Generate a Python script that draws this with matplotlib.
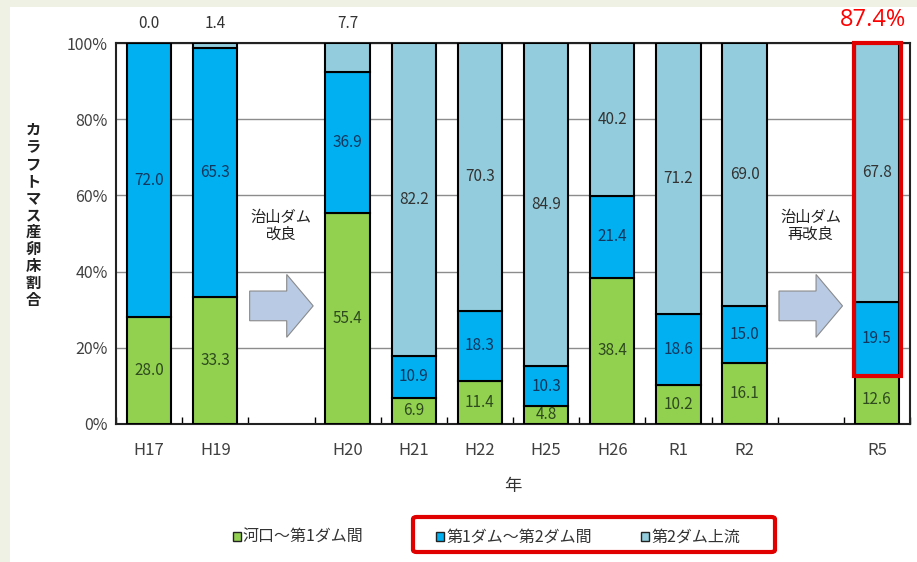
import matplotlib
matplotlib.use("Agg")
import matplotlib.pyplot as plt
from matplotlib.patches import Rectangle, FancyArrow, FancyBboxPatch
from matplotlib.ticker import MultipleLocator, PercentFormatter

plt.rcParams['font.family'] = ['Noto Sans CJK JP', 'DejaVu Sans']

# data (percent share of redds by section)
years = ['H17', 'H19', 'H20', 'H21', 'H22', 'H25', 'H26', 'R1', 'R2', 'R5']
slots = [0, 1, 3, 4, 5, 6, 7, 8, 9, 11]   # gaps at 2 and 10 for the arrows
river_to_dam1 = [28.0, 33.3, 55.4, 6.9, 11.4, 4.8, 38.4, 10.2, 16.1, 12.6]
dam1_to_dam2 = [72.0, 65.3, 36.9, 10.9, 18.3, 10.3, 21.4, 18.6, 15.0, 19.5]
above_dam2 = [0.0, 1.4, 7.7, 82.2, 70.3, 84.9, 40.2, 71.2, 69.0, 67.8]
series_names = ['河口～第1ダム間', '第1ダム～第2ダム間', '第2ダム上流']
arrow_slots = [2, 10]
arrow_texts = ['治山ダム\n改良', '治山ダム\n再改良']
highlight = '87.4%'

colors = ['#92d050', '#00b0f0', '#93cddd']
text_colors = ['#2e4a1e', '#12375e', '#333333']

fig = plt.figure(figsize=(9.17, 5.62), dpi=100)
fig.patch.set_facecolor('white')
# light frame strip on the left and top
fig.patches.append(Rectangle((0, 0), 10 / 917, 1, transform=fig.transFigure,
                             facecolor='#eef1e4', edgecolor='none', zorder=-5))
fig.patches.append(Rectangle((0, 1 - 7 / 562), 1, 7 / 562, transform=fig.transFigure,
                             facecolor='#eef1e4', edgecolor='none', zorder=-5))

ax = fig.add_axes([116 / 917, 138 / 562, 794 / 917, 381 / 562])

w = 0.67
bottom = [0.0] * len(years)
series = [river_to_dam1, dam1_to_dam2, above_dam2]
for k, (vals, c, tc) in enumerate(zip(series, colors, text_colors)):
    ax.bar(slots, vals, width=w, bottom=bottom, color=c, edgecolor='black',
           linewidth=1.5, zorder=3)
    for x, b, v in zip(slots, bottom, vals):
        if k == 2 and v < 10:
            # small top shares are written above the bar
            ax.annotate(f'{v:.1f}', xy=(x, 100), xytext=(0, 14),
                        textcoords='offset points', ha='center', va='center',
                        fontsize=11, color='#333333', annotation_clip=False)
        else:
            ax.text(x, b + v / 2, f'{v:.1f}', ha='center', va='center',
                    fontsize=11, color=tc, zorder=4)
    bottom = [b + v for b, v in zip(bottom, vals)]

# arrows + notes in the gaps
for s, t in zip(arrow_slots, arrow_texts):
    ax.add_patch(FancyArrow(s - 0.48, 31, 0.96, 0, width=7.8, head_width=16.5,
                            head_length=0.4, length_includes_head=True,
                            facecolor='#b9cbe4', edgecolor='#8a8a8a',
                            linewidth=0.8, zorder=3))
    ax.text(s, 52, t, ha='center', va='center', fontsize=11, color='#222222',
            linespacing=0.95, zorder=4)

ax.set_xlim(-0.5, 11.5)
ax.set_ylim(0, 100)
ax.yaxis.set_major_locator(MultipleLocator(20))
ax.yaxis.set_major_formatter(PercentFormatter(decimals=0))
ax.grid(axis='y', color='#8c8c8c', linewidth=1, zorder=0)
ax.set_axisbelow(True)
ax.set_xticks(slots)
ax.set_xticklabels(years)
ax.set_xticks([i + 0.5 for i in range(-1, 12)], minor=True)
ax.tick_params(axis='x', which='major', length=0, labelsize=12,
               labelcolor='#404040', pad=13)
ax.tick_params(axis='x', which='minor', direction='in', length=5, width=1)
ax.tick_params(axis='y', length=0, labelsize=11.5, labelcolor='#404040', pad=6)
for sp in ax.spines.values():
    sp.set_linewidth(1.5)
    sp.set_color('#222222')

ax.set_xlabel('年', fontsize=12.5, color='#333333', labelpad=13)
fig.text(33 / 917, 1 - 215 / 562, '\n'.join('カラフトマス産卵床割合'),
         ha='center', va='center', fontsize=11, fontweight='bold',
         linespacing=1.08, color='#222222')

# red highlight on R5
r5 = slots[-1]
ax.add_patch(Rectangle((r5 - 0.34, river_to_dam1[-1]), 0.70, 100 - river_to_dam1[-1],
                       fill=False, edgecolor='#e00000', linewidth=3,
                       clip_on=False, zorder=6))
fig.text(906 / 917, 1 - 20 / 562, highlight, ha='right', va='center',
         fontsize=17, color='#ff0000', family='Open Sans')

# legend (manual, positions follow the reference)
leg_x = [237, 440, 645]
for x, name, c in zip(leg_x, series_names, colors):
    fig.patches.append(Rectangle(((x - 4) / 917, 1 - 541 / 562), 8 / 917, 9 / 562,
                                 transform=fig.transFigure, facecolor=c,
                                 edgecolor='#222222', linewidth=1))
    fig.text((x + 6) / 917, 1 - 537 / 562, name, ha='left', va='center',
             fontsize=11.5, color='#333333')
fig.patches.append(FancyBboxPatch((413 / 917, 1 - 552 / 562), 362 / 917, 35 / 562,
                                  boxstyle='round,pad=0,rounding_size=0.004',
                                  transform=fig.transFigure, fill=False,
                                  edgecolor='#e00000', linewidth=3))

fig.savefig('out.png', dpi=100)
